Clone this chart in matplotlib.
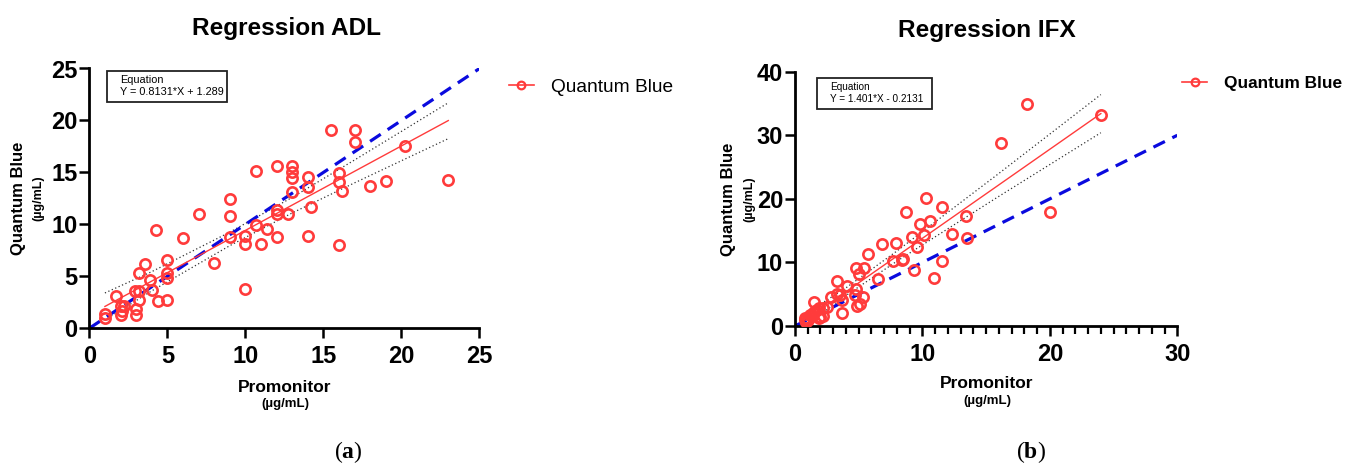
import matplotlib
matplotlib.use('Agg')
import matplotlib.pyplot as plt
from matplotlib.patches import Rectangle
from matplotlib.ticker import MultipleLocator
import numpy as np

plt.rcParams['font.family'] = ['Liberation Sans', 'DejaVu Sans']
plt.rcParams['mathtext.fontset'] = 'custom'
plt.rcParams['mathtext.rm'] = 'Liberation Serif'
plt.rcParams['mathtext.bf'] = 'Liberation Serif:bold'

# ---- dados ----
# ADL
adl_x = [15.5, 17.0, 17.0, 20.2, 12.0, 10.7, 13.0, 13.0, 13.0, 14.0,
         16.0, 16.0, 16.2, 18.0, 19.0, 23.0, 14.0, 13.0, 14.2, 9.0,
         9.0, 12.0, 12.0, 12.7, 7.0, 10.7, 11.4, 10.0, 10.0, 11.0,
         12.0, 14.0, 16.0, 9.0, 6.0, 4.3, 8.0, 10.0, 5.0, 5.0,
         5.0, 3.6, 3.2, 3.9, 4.0, 2.9, 3.2, 1.7, 3.2, 4.4,
         5.0, 2.0, 2.2, 2.0, 3.0, 3.0, 1.0, 1.0, 2.1]
adl_y = [19.1, 19.1, 17.9, 17.5, 15.6, 15.1, 15.6, 15.05, 14.5, 14.6,
         14.95, 14.05, 13.25, 13.7, 14.2, 14.3, 13.6, 13.1, 11.7, 12.4,
         10.8, 11.35, 11.0, 11.0, 11.0, 9.9, 9.6, 8.9, 8.1, 8.1,
         8.8, 8.9, 8.0, 8.75, 8.7, 9.5, 6.3, 3.8, 6.6, 5.3,
         4.8, 6.2, 5.3, 4.6, 3.7, 3.6, 3.6, 3.1, 2.7, 2.6,
         2.7, 2.1, 2.1, 1.3, 1.9, 1.3, 1.4, 0.95, 1.7]
adl_slope, adl_inter = 0.8131, 1.289
adl_eq = 'Y = 0.8131*X + 1.289'
adl_band_x = [1, 4, 9, 13, 17, 23]
adl_upper = [3.4, 5.45, 9.25, 12.6, 16.2, 21.7]
adl_lower = [0.8, 3.6, 7.95, 11.1, 14.0, 18.25]

# IFX
ifx_x = [24.0, 18.2, 16.2, 20.0, 10.3, 11.5, 8.7, 9.8, 10.6, 13.4,
         13.5, 12.3, 10.1, 9.2, 9.6, 11.5, 10.9, 9.3, 7.9, 6.8,
         5.7, 7.7, 8.4, 8.5, 4.8, 5.4, 5.0, 6.5, 3.3, 4.1,
         4.8, 4.7, 5.3, 4.9, 5.1, 3.3, 3.5, 3.7, 2.8, 3.7,
         1.5, 2.5, 2.2, 1.9, 1.7, 1.4, 1.2, 2.2, 1.9, 1.0,
         0.8, 0.9, 0.8, 1.3, 1.6, 2.0]
ifx_y = [33.2, 34.9, 28.8, 17.9, 20.2, 18.7, 18.0, 16.1, 16.5, 17.3,
         13.8, 14.5, 14.3, 14.0, 12.5, 10.3, 7.6, 8.8, 13.0, 12.9,
         11.3, 10.2, 10.4, 10.5, 9.1, 9.1, 8.2, 7.4, 7.1, 6.3,
         5.8, 4.8, 4.6, 3.2, 3.4, 5.1, 4.9, 4.1, 4.5, 2.1,
         3.7, 3.0, 2.9, 2.8, 2.5, 2.0, 1.7, 1.6, 1.2, 1.0,
         0.9, 0.7, 1.3, 1.5, 2.3, 1.4]
ifx_slope, ifx_inter = 1.401, -0.2131
ifx_eq = 'Y = 1.401*X - 0.2131'
ifx_band_x = [0.8, 4, 8, 12, 16, 20, 24]
ifx_upper = [1.9, 6.0, 11.8, 17.9, 24.0, 30.2, 36.4]
ifx_lower = [0.0, 4.8, 10.2, 15.3, 20.4, 25.4, 30.4]

RED = '#ff3b3b'
BLUE = '#0a0ade'
NARROW = ['Liberation Sans Narrow', 'Liberation Sans']
W, H = 1353, 465


def fx(px):
    return px / W


def fy(py):
    return 1 - py / H


def painel(ax, x, y, slope, inter, band_x, upper, lower, xmax, ymax, xstep, ystep, minor):
    ax.plot([0, xmax], [0, xmax], color=BLUE, lw=2.3, ls=(0, (4, 2.6)), zorder=2)
    xl = np.array([min(x), max(x)])
    ax.plot(band_x, upper, color='#333333', lw=0.9, ls=(0, (1, 2)), zorder=1)
    ax.plot(band_x, lower, color='#333333', lw=0.9, ls=(0, (1, 2)), zorder=1)
    ax.plot(xl, slope * xl + inter, color=RED, lw=1.0, zorder=3)
    ax.plot(x, y, ls='none', marker='o', ms=7.4, mfc='none', mec=RED, mew=1.9, zorder=4)
    ax.set_xlim(0, xmax)
    ax.set_ylim(0, ymax)
    ax.xaxis.set_major_locator(MultipleLocator(xstep))
    ax.yaxis.set_major_locator(MultipleLocator(ystep))
    if minor:
        ax.xaxis.set_minor_locator(MultipleLocator(1))
        ax.tick_params(axis='x', which='minor', length=5.5, width=1.6)
    for s in ['top', 'right']:
        ax.spines[s].set_visible(False)
    for s in ['left', 'bottom']:
        ax.spines[s].set_linewidth(2.0)
    ax.tick_params(which='major', length=7, width=1.8)
    ax.tick_params(axis='y', pad=1.5)
    ax.tick_params(axis='x', pad=5)
    for t in ax.get_xticklabels() + ax.get_yticklabels():
        t.set_family(NARROW)
        t.set_fontweight('bold')
        t.set_fontsize(17)
    ax.patch.set_alpha(0)


def caixa_equacao(fig, x0, x1, y0, y1, eq, fs):
    fig.patches.append(Rectangle((fx(x0), fy(y1)), fx(x1) - fx(x0), fy(y0) - fy(y1),
                                 transform=fig.transFigure, fill=False, ec='#222222', lw=1.3))
    fig.text(fx(x0 + 13), fy(y0 + 9), 'Equation', fontsize=fs, va='center', ha='left')
    fig.text(fx(x0 + 13), fy(y1 - 10), eq, fontsize=fs, va='center', ha='left')


fig = plt.figure(figsize=(13.53, 4.65), dpi=100)

ax1 = fig.add_axes([fx(89.3), fy(328.3), fx(479.5) - fx(89.3), fy(68.5) - fy(328.3)])
painel(ax1, adl_x, adl_y, adl_slope, adl_inter, adl_band_x, adl_upper, adl_lower, 25, 25, 5, 5, False)

ax2 = fig.add_axes([fx(795), fy(326), fx(1177.3) - fx(795), fy(71.7) - fy(326)])
painel(ax2, ifx_x, ifx_y, ifx_slope, ifx_inter, ifx_band_x, ifx_upper, ifx_lower, 30, 40, 10, 10, True)

# titulos
fig.text(fx(286), fy(28), 'Regression ADL', fontsize=17.6, fontweight='bold', ha='center', va='center')
fig.text(fx(987), fy(31), 'Regression IFX', fontsize=17.6, fontweight='bold', ha='center', va='center')

# eixos
for cx, cy, ux, uy in [(19, 198, 38, 198), (728, 199, 749, 199)]:
    fig.text(fx(cx), fy(cy), 'Quantum Blue', fontsize=12, fontweight='bold', rotation=90,
             ha='center', va='center')
    fig.text(fx(ux), fy(uy), '(µg/mL)', fontsize=9, fontweight='bold', rotation=90,
             ha='center', va='center')
for cx, cy, uy in [(285, 387, 404), (987, 383, 401)]:
    fig.text(fx(cx), fy(cy), 'Promonitor', fontsize=12.5, fontweight='bold', ha='center', va='center')
    fig.text(fx(cx), fy(uy), '(µg/mL)', fontsize=9.5, fontweight='bold', ha='center', va='center')

# equacoes
caixa_equacao(fig, 107, 227, 71, 102, adl_eq, 7.8)
caixa_equacao(fig, 817, 932, 78, 109, ifx_eq, 7.2)

# legendas
leg1 = ax1.legend([plt.Line2D([], [], color=RED, lw=1.2, marker='o', ms=5.5, mfc='none', mec=RED, mew=1.6)],
                  ['Quantum Blue'], loc='center left', bbox_to_anchor=(1.075, 0.928), frameon=False,
                  fontsize=13.8, handlelength=1.3, handletextpad=0.9, borderpad=0, borderaxespad=0)
leg2 = ax2.legend([plt.Line2D([], [], color=RED, lw=1.2, marker='o', ms=5.5, mfc='none', mec=RED, mew=1.6)],
                  ['Quantum Blue'], loc='center left', bbox_to_anchor=(1.013, 0.955), frameon=False,
                  prop={'size': 12.4, 'weight': 'bold'}, handlelength=1.45, handletextpad=1.0,
                  borderpad=0, borderaxespad=0)

# legendas (a) (b)
fig.text(fx(348), fy(452), r'($\mathbf{a}$)', fontsize=17, family='Liberation Serif', ha='center', va='center')
fig.text(fx(1031), fy(452), r'($\mathbf{b}$)', fontsize=17, family='Liberation Serif', ha='center', va='center')

fig.savefig('out.png', dpi=100)
